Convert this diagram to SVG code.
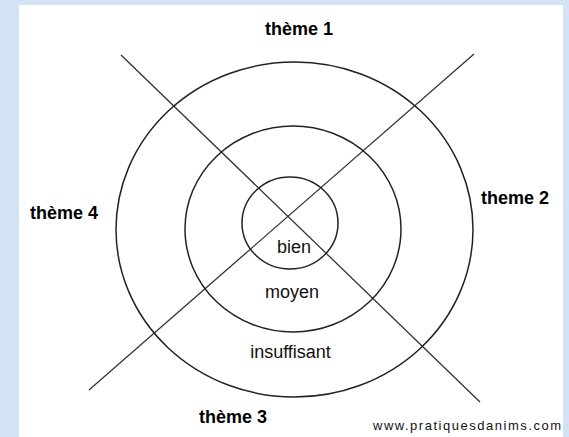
<svg xmlns="http://www.w3.org/2000/svg" width="569" height="437" viewBox="0 0 569 437">
<style>
.ring{fill:none;stroke:#222;stroke-width:1.5}
.axis{stroke:#333;stroke-width:1.3}
.theme{font-family:"Liberation Sans",Arial,sans-serif;font-weight:bold;font-size:18px;fill:#000}
.level{font-family:"Liberation Sans",Arial,sans-serif;font-size:18px;fill:#111;text-anchor:middle}
.credit{font-family:"Liberation Sans",Arial,sans-serif;font-size:13px;fill:#111}
</style>
<rect x="0" y="0" width="569" height="437" fill="#d3e3f5"/>
<rect x="19" y="5" width="544" height="432" fill="#ffffff"/>
<g id="connectors">
<line class="axis" x1="121" y1="55" x2="480" y2="402"/>
<line class="axis" x1="474" y1="54" x2="89" y2="390"/>
</g>
<g id="ring-outer"><ellipse class="ring" cx="294.5" cy="229.5" rx="178.5" ry="167.5"/></g>
<g id="ring-middle"><ellipse class="ring" cx="293" cy="229" rx="108" ry="103"/></g>
<g id="ring-inner"><ellipse class="ring" cx="290" cy="223" rx="48" ry="46"/></g>
<g id="label-bien"><text class="level" x="294" y="253">bien</text></g>
<g id="label-moyen"><text class="level" x="292" y="298">moyen</text></g>
<g id="label-insuffisant"><text class="level" x="290.5" y="358">insuffisant</text></g>
<g id="theme1"><text class="theme" x="265" y="35">thème 1</text></g>
<g id="theme2"><text class="theme" x="481" y="204">theme 2</text></g>
<g id="theme3"><text class="theme" x="199" y="423">thème 3</text></g>
<g id="theme4"><text class="theme" x="30" y="219">thème 4</text></g>
<g id="credit"><text class="credit" x="373" y="430" textLength="188" lengthAdjust="spacing">www.pratiquesdanims.com</text></g>
</svg>
